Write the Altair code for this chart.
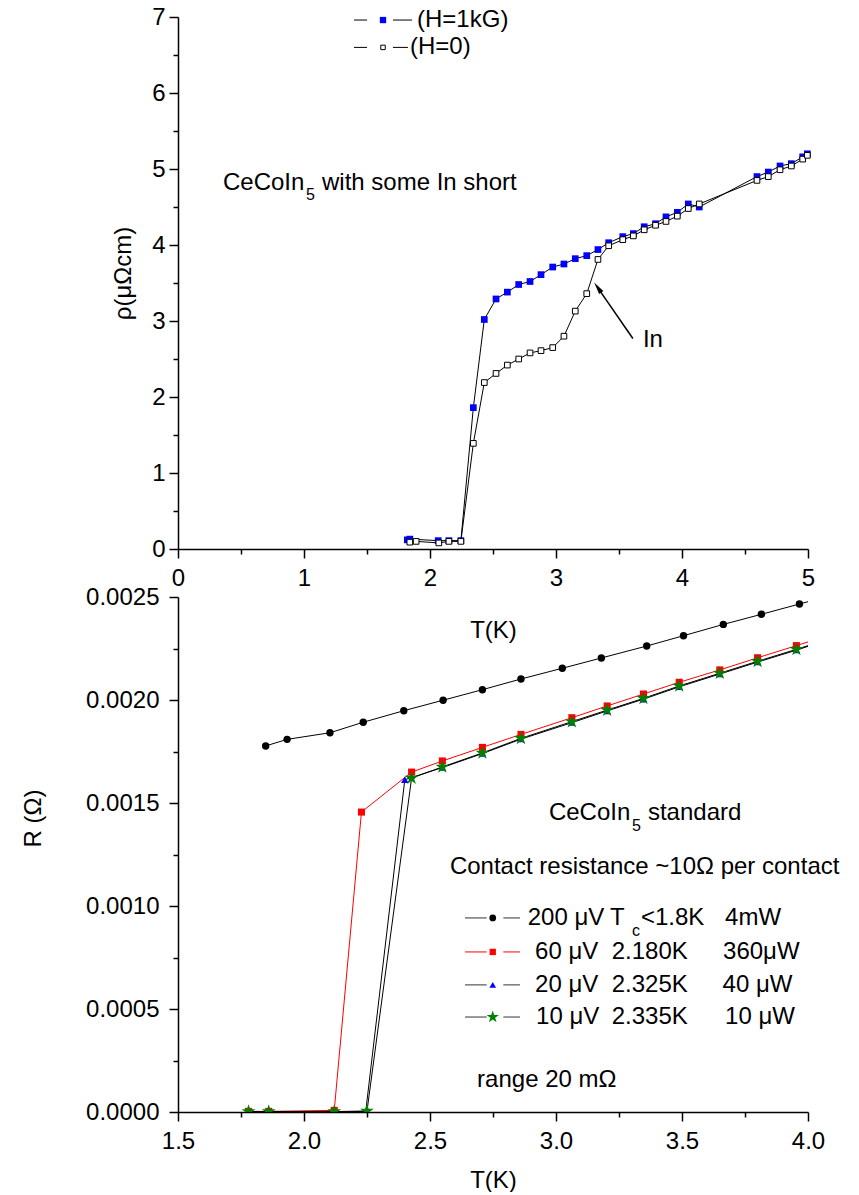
import altair as alt
import pandas as pd

FONT = "Liberation Sans"

# ---------------- top panel: rho(T) ----------------
h1_T = [1.82, 1.84, 2.065, 2.15, 2.245, 2.344, 2.431, 2.524, 2.614, 2.704, 2.794, 2.881,
        2.974, 3.063, 3.153, 3.244, 3.333, 3.418, 3.53, 3.614, 3.70, 3.79, 3.873, 3.963,
        4.05, 4.137, 4.595, 4.685, 4.778, 4.868, 4.958, 4.995]
h1_rho = [0.12, 0.13, 0.11, 0.11, 0.11, 1.86, 3.02, 3.29, 3.38, 3.48, 3.52, 3.61,
          3.71, 3.75, 3.82, 3.86, 3.94, 4.03, 4.11, 4.15, 4.24, 4.28, 4.37, 4.43,
          4.54, 4.50, 4.90, 4.96, 5.04, 5.07, 5.16, 5.20]
h0_T = [1.84, 1.89, 2.07, 2.15, 2.245, 2.344, 2.431, 2.524, 2.614, 2.704, 2.794, 2.881,
        2.974, 3.063, 3.153, 3.244, 3.333, 3.418, 3.53, 3.614, 3.70, 3.79, 3.873, 3.963,
        4.05, 4.137, 4.595, 4.685, 4.778, 4.868, 4.958, 4.995]
h0_rho = [0.09, 0.10, 0.08, 0.10, 0.10, 1.39, 2.19, 2.31, 2.42, 2.50, 2.58, 2.61,
          2.65, 2.80, 3.13, 3.36, 3.81, 3.99, 4.07, 4.12, 4.20, 4.26, 4.31, 4.38,
          4.48, 4.54, 4.85, 4.90, 4.99, 5.04, 5.13, 5.18]

top_x_ticks = [0, 1, 2, 3, 4, 5]
top_x_minor = [0.5, 1.5, 2.5, 3.5, 4.5]
top_y_ticks = [0, 1, 2, 3, 4, 5, 6, 7]
top_y_minor = [0.5, 1.5, 2.5, 3.5, 4.5, 5.5, 6.5]

# ---------------- bottom panel: R(T) ----------------
b200_T = [1.848, 1.933, 2.103, 2.235, 2.396, 2.552, 2.708, 2.861, 3.025, 3.18, 3.36,
          3.506, 3.664, 3.815, 3.966, 4.12]
b200_R = [0.001777, 0.001809, 0.001841, 0.001892, 0.001948, 0.001999, 0.002050, 0.002102,
          0.002154, 0.002204, 0.002262, 0.002312, 0.002367, 0.002416, 0.002466, 0.002517]
b60_T = [1.78, 1.86, 2.12, 2.228, 2.427, 2.549, 2.708, 2.861, 3.063, 3.203, 3.347,
         3.489, 3.65, 3.80, 3.954, 4.1]
b60_R = [0.000003, 0.000003, 0.000008, 0.001456, 0.001650, 0.001704, 0.001770, 0.001833,
         0.001914, 0.001971, 0.002029, 0.002086, 0.002146, 0.002205, 0.002264, 0.002321]
b20_T = [1.78, 1.86, 2.12, 2.245, 2.40, 2.549, 2.708, 2.861, 3.063, 3.203, 3.347,
         3.489, 3.65, 3.80, 3.954, 4.1]
b20_R = [0.0, 0.0, 0.0, 0.000003, 0.001613, 0.001672, 0.001740, 0.001810,
         0.001890, 0.001947, 0.002004, 0.002064, 0.002126, 0.002184, 0.002242, 0.002300]
b10_T = [1.78, 1.86, 2.12, 2.25, 2.427, 2.549, 2.708, 2.861, 3.063, 3.203, 3.347,
         3.489, 3.65, 3.80, 3.954, 4.1]
b10_R = [0.000002, 0.000002, 0.000002, 0.000005, 0.001621, 0.001675, 0.001743, 0.001814,
         0.001895, 0.001951, 0.002008, 0.002068, 0.002130, 0.002188, 0.002246, 0.002303]

bot_x_ticks = [1.5, 2.0, 2.5, 3.0, 3.5, 4.0]
bot_x_minor = [1.75, 2.25, 2.75, 3.25, 3.75]
bot_y_ticks = [0.0, 0.0005, 0.0010, 0.0015, 0.0020, 0.0025]
bot_y_minor = [0.00025, 0.00075, 0.00125, 0.00175, 0.00225]

# legend / annotation text
leg_top_labels = ["(H=1kG)", "(H=0)"]
leg_bot_col1 = ["200 μV", "60 μV", "20 μV", "10 μV"]
leg_bot_col2 = ["2.180K", "2.325K", "2.335K"]
leg_bot_col3 = ["4mW", "360μW", "40 μW", "10 μW"]

STAR = ("M0,-1L0.225,-0.31L0.951,-0.309L0.363,0.118L0.588,0.809L0,0.38L-0.588,0.809"
        "L-0.363,0.118L-0.951,-0.309L-0.225,-0.31Z")
ARROWHEAD = "M0,-1L0.42,1L-0.42,1Z"

xs_top = alt.Scale(domain=[0, 5], nice=False, zero=False)
ys_top = alt.Scale(domain=[0, 7], nice=False, zero=False)
xs_bot = alt.Scale(domain=[1.5, 4.0], nice=False, zero=False)
ys_bot = alt.Scale(domain=[0, 0.0025], nice=False, zero=False)


def enc(ch, xs, ys, xf="x:Q", yf="y:Q"):
    return ch.encode(x=alt.X(xf, scale=xs, axis=None), y=alt.Y(yf, scale=ys, axis=None))


def text_layer(df, xs, ys, size=24, dx=0, dy=0, align="left"):
    return alt.Chart(df).mark_text(
        align=align, baseline="middle", font=FONT, fontSize=size, color="black", dx=dx, dy=dy
    ).encode(x=alt.X("x:Q", scale=xs, axis=None), y=alt.Y("y:Q", scale=ys, axis=None), text="t:N")


# ================= TOP =================
df_h1 = pd.DataFrame({"x": h1_T, "y": h1_rho})
df_h0 = pd.DataFrame({"x": h0_T, "y": h0_rho})

top_axes = alt.Chart(df_h1).mark_line(color="black", strokeWidth=1).encode(
    x=alt.X("x:Q", scale=xs_top, axis=alt.Axis(
        orient="bottom", values=top_x_ticks, format="d", tickSize=9, labelPadding=8,
        title="T(K)", titleY=81, titleBaseline="middle")),
    y=alt.Y("y:Q", scale=ys_top, axis=alt.Axis(
        orient="left", values=top_y_ticks, format="d", tickSize=9, labelPadding=4,
        title="ρ(μΩcm)", titleX=-55, titleY=256, titleAlign="center", titleBaseline="middle")),
)
top_minor = alt.Chart(df_h1).mark_point(opacity=0).encode(
    x=alt.X("x:Q", scale=xs_top, axis=alt.Axis(
        orient="bottom", values=top_x_minor, labels=False, tickSize=5, domain=False, title=None)),
    y=alt.Y("y:Q", scale=ys_top, axis=alt.Axis(
        orient="left", values=top_y_minor, labels=False, tickSize=5, domain=False, title=None)),
)
top_line0 = enc(alt.Chart(df_h0).mark_line(color="black", strokeWidth=1), xs_top, ys_top)
top_pts1 = enc(alt.Chart(df_h1).mark_point(shape="square", filled=True, color="#0000FF",
                                           size=45, opacity=1), xs_top, ys_top)
top_pts0 = enc(alt.Chart(df_h0).mark_point(shape="square", filled=True, fill="white",
                                           stroke="black", strokeWidth=1, size=32, opacity=1),
               xs_top, ys_top)

# legend (top)
leg_top_y = [6.96, 6.6]
leg_top_rules = pd.DataFrame({"x": [1.397, 1.706, 1.397, 1.706], "x2": [1.5, 1.857, 1.5, 1.825],
                              "y": [leg_top_y[0], leg_top_y[0], leg_top_y[1], leg_top_y[1]]})
top_leg_rules = alt.Chart(leg_top_rules).mark_rule(color="black", strokeWidth=1).encode(
    x=alt.X("x:Q", scale=xs_top, axis=None), x2="x2:Q", y=alt.Y("y:Q", scale=ys_top, axis=None))
top_leg_m1 = enc(alt.Chart(pd.DataFrame({"x": [1.627], "y": [leg_top_y[0]]})).mark_point(
    shape="square", filled=True, color="#0000FF", size=40, opacity=1), xs_top, ys_top)
top_leg_m0 = enc(alt.Chart(pd.DataFrame({"x": [1.627], "y": [leg_top_y[1]]})).mark_point(
    shape="square", filled=True, fill="white", stroke="black", strokeWidth=1, size=20, opacity=1),
    xs_top, ys_top)
top_leg_t = text_layer(pd.DataFrame({"x": [1.897, 1.841], "y": leg_top_y, "t": leg_top_labels}),
                       xs_top, ys_top)

# annotations (top)
ann_x, ann_y = 0.357, 4.816
top_t1 = text_layer(pd.DataFrame({"x": [ann_x], "y": [ann_y], "t": ["CeCoIn"]}), xs_top, ys_top)
top_t2 = text_layer(pd.DataFrame({"x": [ann_x], "y": [ann_y], "t": ["5"]}), xs_top, ys_top,
                    size=16, dx=83, dy=12)
top_t3 = text_layer(pd.DataFrame({"x": [ann_x], "y": [ann_y], "t": ["with some In short"]}),
                    xs_top, ys_top, dx=99)
top_in = text_layer(pd.DataFrame({"x": [3.69], "y": [2.75], "t": ["In"]}), xs_top, ys_top)
arrow_df = pd.DataFrame({"x": [3.61], "y": [2.77], "x2": [3.335], "y2": [3.43]})
top_arrow = alt.Chart(arrow_df).mark_rule(color="black", strokeWidth=1.5).encode(
    x=alt.X("x:Q", scale=xs_top, axis=None), x2="x2:Q",
    y=alt.Y("y:Q", scale=ys_top, axis=None), y2="y2:Q")
top_head = enc(alt.Chart(pd.DataFrame({"x": [3.331], "y": [3.44]})).mark_point(
    shape=ARROWHEAD, filled=True, color="black", size=150, angle=325, opacity=1),
    xs_top, ys_top)

top = alt.layer(
    top_axes, top_minor, top_line0, top_pts1, top_pts0,
    top_leg_rules, top_leg_m1, top_leg_m0, top_leg_t,
    top_t1, top_t2, top_t3, top_in, top_arrow, top_head,
).resolve_axis(x="independent", y="independent").properties(width=630, height=532)

# ================= BOTTOM =================
df200 = pd.DataFrame({"x": b200_T, "y": b200_R})
df60 = pd.DataFrame({"x": b60_T, "y": b60_R})
df20 = pd.DataFrame({"x": b20_T, "y": b20_R})
df10 = pd.DataFrame({"x": b10_T, "y": b10_R})

bot_axes = alt.Chart(df200).mark_line(color="black", strokeWidth=1, clip=True).encode(
    x=alt.X("x:Q", scale=xs_bot, axis=alt.Axis(
        orient="bottom", values=bot_x_ticks, format=".1f", tickSize=9, labelPadding=8,
        title="T(K)", titleY=68, titleBaseline="middle")),
    y=alt.Y("y:Q", scale=ys_bot, axis=alt.Axis(
        orient="left", values=bot_y_ticks, format=".4f", tickSize=9, labelPadding=10,
        title="R (Ω)", titleX=-145, titleY=221, titleAlign="center", titleBaseline="middle")),
)
bot_minor = alt.Chart(df200).mark_point(opacity=0, clip=True).encode(
    x=alt.X("x:Q", scale=xs_bot, axis=alt.Axis(
        orient="bottom", values=bot_x_minor, labels=False, tickSize=5, domain=False, title=None)),
    y=alt.Y("y:Q", scale=ys_bot, axis=alt.Axis(
        orient="left", values=bot_y_minor, labels=False, tickSize=5, domain=False, title=None)),
)


def series(df, color, shape, size, mcolor):
    ln = enc(alt.Chart(df).mark_line(color=color, strokeWidth=1, clip=True), xs_bot, ys_bot)
    pt = enc(alt.Chart(df).mark_point(shape=shape, filled=True, color=mcolor, size=size,
                                      opacity=1, clip=True), xs_bot, ys_bot)
    return ln, pt


l200, p200 = series(df200, "black", "circle", 55, "black")
l60, p60 = series(df60, "#FF0000", "square", 50, "#FF0000")
l20, p20 = series(df20, "black", "triangle-up", 55, "#0000FF")
l10, p10 = series(df10, "black", STAR, 210, "#008000")

# legend (bottom)
leg_y = [0.000942, 0.000777, 0.000617, 0.000461]
leg_line_col = ["#333333", "#FF0000", "#333333", "#333333"]
rules_df = pd.DataFrame({
    "x": [2.639] * 4 + [2.791] * 4,
    "x2": [2.725] * 4 + [2.857] * 4,
    "y": leg_y + leg_y,
    "c": leg_line_col + leg_line_col,
})
bot_leg_rules = alt.Chart(rules_df).mark_rule(strokeWidth=1).encode(
    x=alt.X("x:Q", scale=xs_bot, axis=None), x2="x2:Q",
    y=alt.Y("y:Q", scale=ys_bot, axis=None), color=alt.Color("c:N", scale=None))
leg_mx = 2.749
bot_leg_m = [
    enc(alt.Chart(pd.DataFrame({"x": [leg_mx], "y": [leg_y[0]]})).mark_point(
        shape="circle", filled=True, color="black", size=45, opacity=1), xs_bot, ys_bot),
    enc(alt.Chart(pd.DataFrame({"x": [leg_mx], "y": [leg_y[1]]})).mark_point(
        shape="square", filled=True, color="#FF0000", size=40, opacity=1), xs_bot, ys_bot),
    enc(alt.Chart(pd.DataFrame({"x": [leg_mx], "y": [leg_y[2]]})).mark_point(
        shape="triangle-up", filled=True, color="#0000FF", size=45, opacity=1), xs_bot, ys_bot),
    enc(alt.Chart(pd.DataFrame({"x": [leg_mx], "y": [leg_y[3]]})).mark_point(
        shape=STAR, filled=True, color="#008000", size=170, opacity=1), xs_bot, ys_bot),
]
bot_c1 = text_layer(pd.DataFrame({"x": [2.888, 2.917, 2.917, 2.921], "y": leg_y, "t": leg_bot_col1}),
                    xs_bot, ys_bot)
bot_c2a = text_layer(pd.DataFrame({"x": [3.214], "y": [leg_y[0]], "t": ["T"]}), xs_bot, ys_bot)
bot_c2b = text_layer(pd.DataFrame({"x": [3.214], "y": [leg_y[0]], "t": ["c"]}), xs_bot, ys_bot,
                     size=16, dx=22, dy=13)
bot_c2c = text_layer(pd.DataFrame({"x": [3.214], "y": [leg_y[0]], "t": ["<1.8K"]}), xs_bot, ys_bot,
                     dx=31)
bot_c2 = text_layer(pd.DataFrame({"x": [3.221] * 3, "y": leg_y[1:], "t": leg_bot_col2}),
                    xs_bot, ys_bot)
bot_c3 = text_layer(pd.DataFrame({"x": [3.671, 3.663, 3.661, 3.671], "y": leg_y, "t": leg_bot_col3}),
                    xs_bot, ys_bot)

std_x, std_y = 2.972, 0.001451
bot_s1 = text_layer(pd.DataFrame({"x": [std_x], "y": [std_y], "t": ["CeCoIn"]}), xs_bot, ys_bot)
bot_s2 = text_layer(pd.DataFrame({"x": [std_x], "y": [std_y], "t": ["5"]}), xs_bot, ys_bot,
                    size=16, dx=83, dy=13)
bot_s3 = text_layer(pd.DataFrame({"x": [std_x], "y": [std_y], "t": ["standard"]}), xs_bot, ys_bot,
                    dx=99)
bot_contact = text_layer(pd.DataFrame({"x": [2.579], "y": [0.001191],
                                       "t": ["Contact resistance ~10Ω per contact"]}), xs_bot, ys_bot)
bot_range = text_layer(pd.DataFrame({"x": [2.687], "y": [0.000155], "t": ["range 20 mΩ"]}),
                       xs_bot, ys_bot)

bottom = alt.layer(
    bot_axes, bot_minor, l60, l20, l10, p200, p60, p20, p10,
    bot_leg_rules, *bot_leg_m, bot_c1, bot_c2a, bot_c2b, bot_c2c, bot_c2, bot_c3,
    bot_s1, bot_s2, bot_s3, bot_contact, bot_range,
).resolve_axis(x="independent", y="independent").properties(width=630, height=515)

chart = alt.vconcat(top, bottom, spacing=48, bounds="flush").properties(
    padding={"left": 13, "top": -3, "right": 5, "bottom": 0}
).configure_view(stroke=None).configure_axis(
    labelFont=FONT, labelFontSize=24, labelColor="black",
    titleFont=FONT, titleFontSize=24, titleFontWeight="normal", titleColor="black",
    domainColor="black", tickColor="black", domainWidth=1.5, tickWidth=1.5,
    grid=False, labelFlush=False, labelOverlap=False,
)

chart.save("out.html", embed_options={"renderer": "svg", "actions": False})
